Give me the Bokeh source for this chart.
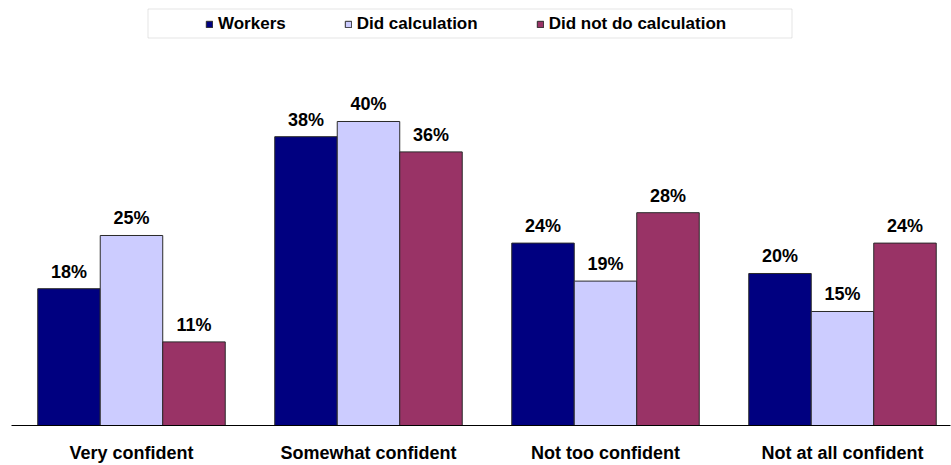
from bokeh.plotting import figure
from bokeh.models import (Range1d, FixedTicker, Legend, LegendItem, BoxAnnotation,
                          ColumnDataSource)
from bokeh.core.properties import value
from bokeh.embed import file_html
from bokeh.resources import INLINE
import numpy as np

categories = ["Very confident", "Somewhat confident", "Not too confident", "Not at all confident"]
series_names = ["Workers", "Did calculation", "Did not do calculation"]
workers = [18, 38, 24, 20]
did_calc = [25, 40, 19, 15]
did_not = [11, 36, 28, 24]
colors = ["#000080", "#CCCCFF", "#993366"]

FONT = "Liberation Sans"
bar_w = 0.2637
offsets = [-bar_w, 0.0, bar_w]

p = figure(width=951, height=465,
           x_range=Range1d(-0.5063, 3.4557), y_range=Range1d(0, 55.92),
           output_backend="svg", toolbar_location=None,
           min_border_left=11, min_border_right=1, min_border_top=0, min_border_bottom=40)
p.yaxis.visible = False
p.grid.visible = False
p.outline_line_color = None
p.background_fill_color = "white"

idx = np.arange(len(categories))
renderers = []
for vals, off, col, name in zip([workers, did_calc, did_not], offsets, colors, series_names):
    src = ColumnDataSource(dict(x=idx + off, top=vals, lab=[f"{v}%" for v in vals]))
    r = p.vbar(x="x", top="top", width=bar_w, source=src, fill_color=col,
               line_color="#2a2a2a", line_width=1)
    renderers.append(r)
    p.text(x="x", y="top", text="lab", source=src, text_align="center",
           text_baseline="alphabetic", y_offset=-17, text_font=value(FONT),
           text_font_style="bold", text_font_size="18px", text_color="black")

xa = p.xaxis[0]
xa.ticker = FixedTicker(ticks=list(range(len(categories))))
xa.major_label_overrides = {i: c for i, c in enumerate(categories)}
xa.major_tick_line_color = None
xa.minor_tick_line_color = None
xa.major_tick_out = 0
xa.major_tick_in = 0
xa.minor_tick_out = 0
xa.minor_tick_in = 0
xa.axis_line_color = "black"
xa.axis_line_width = 1
xa.major_label_standoff = 17
xa.major_label_text_font = FONT
xa.major_label_text_font_style = "bold"
xa.major_label_text_font_size = "18px"
xa.major_label_text_color = "black"

legend = Legend(items=[LegendItem(label=n, renderers=[r]) for n, r in zip(series_names, renderers)],
                location=(194, 391), orientation="horizontal",
                glyph_width=8, glyph_height=8, label_standoff=5, spacing=58,
                padding=5, label_height=18,
                label_text_font=FONT, label_text_font_style="bold",
                label_text_font_size="17px", label_text_color="black",
                border_line_color=None, background_fill_alpha=0)
p.add_layout(legend)

box = BoxAnnotation(left=147.5, right=791.5, top=8.5, bottom=37.5,
                    left_units="canvas", right_units="canvas",
                    top_units="canvas", bottom_units="canvas",
                    fill_color=None, line_color="#a6a6a6", line_width=1)
p.add_layout(box)

open("out.html", "w").write(file_html(p, INLINE))
